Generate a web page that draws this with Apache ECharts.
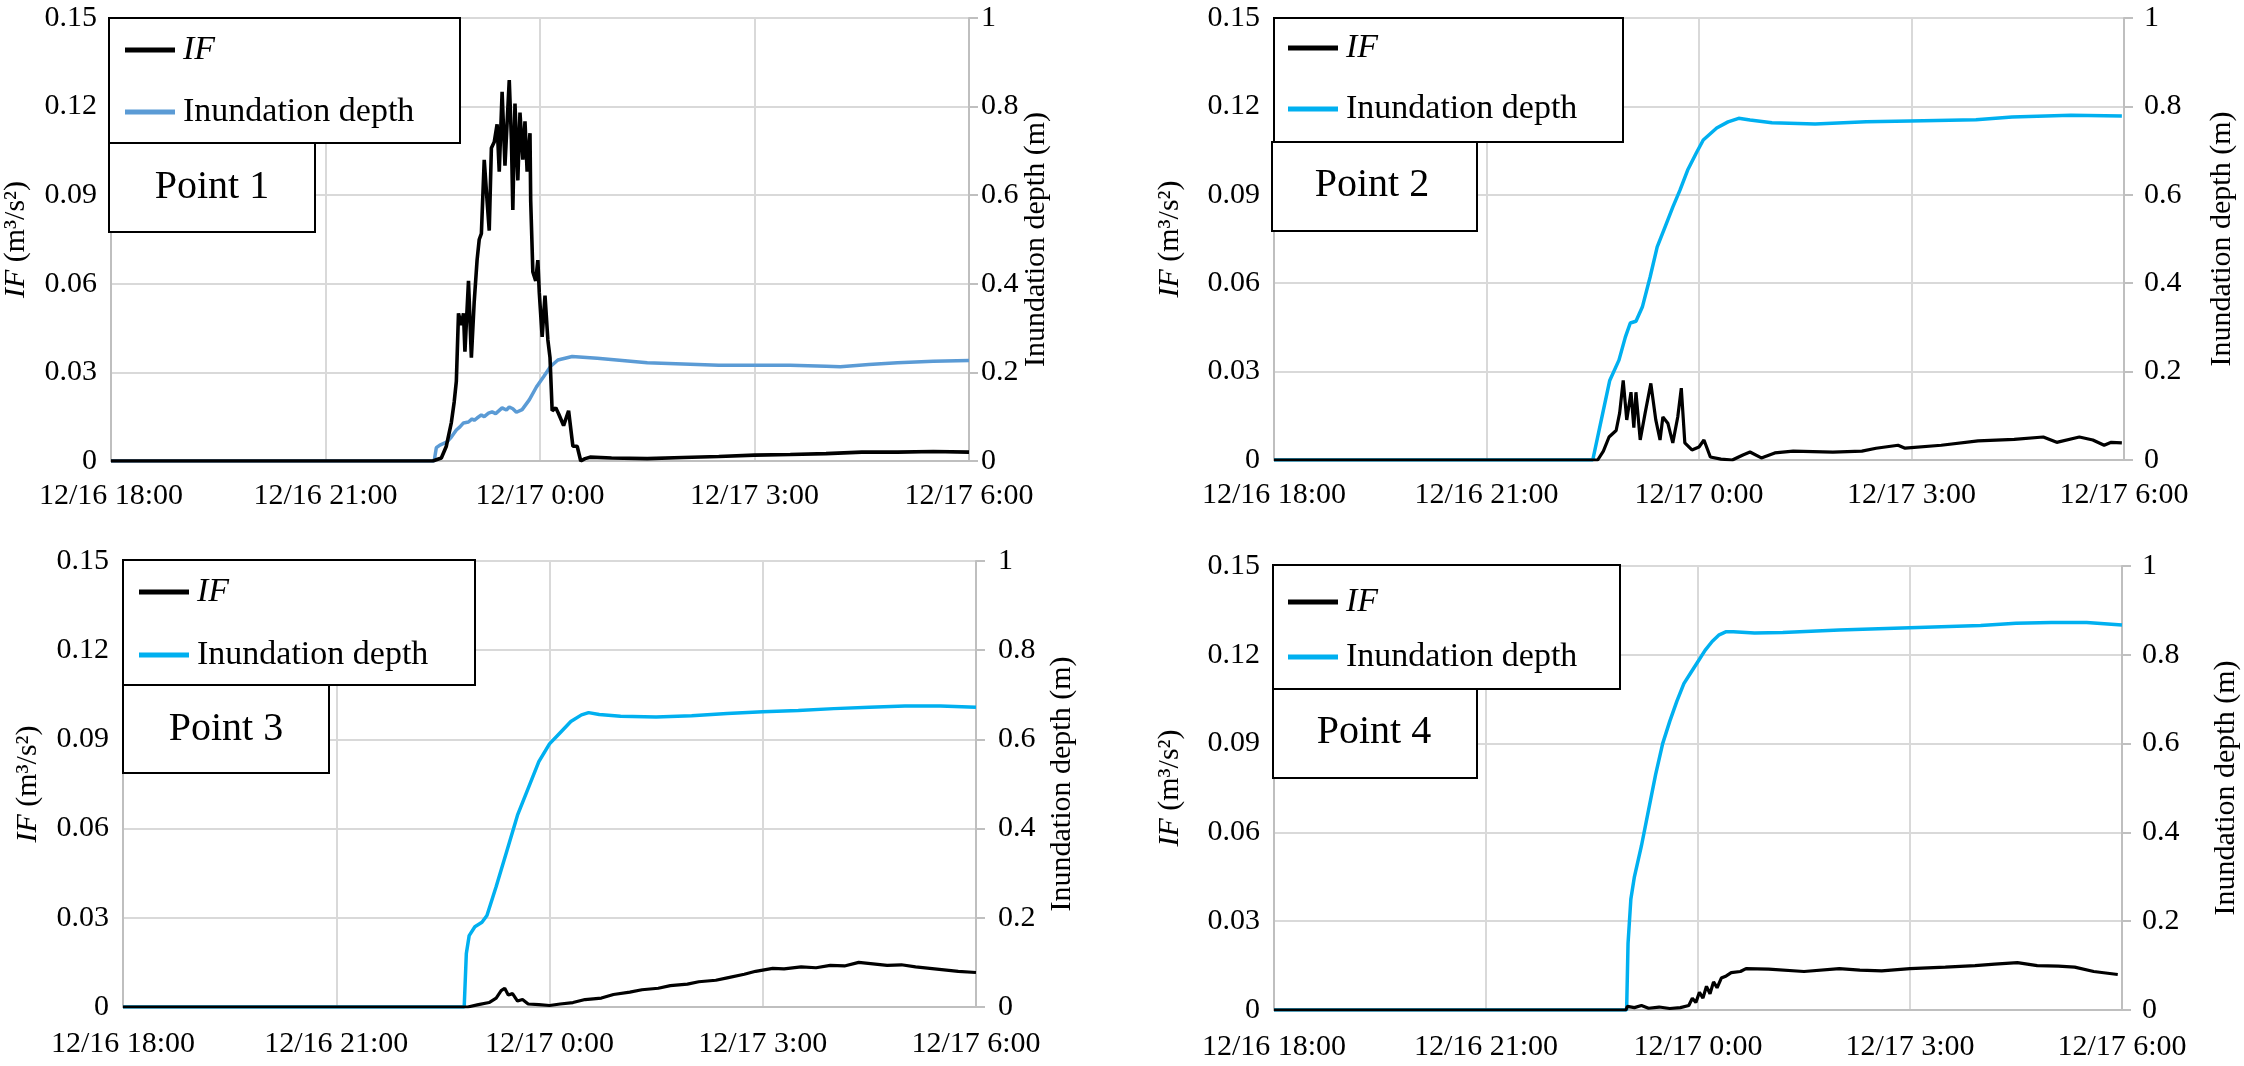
<!DOCTYPE html>
<html>
<head>
<meta charset="utf-8">
<script src="https://cdn.jsdelivr.net/npm/echarts@6/dist/echarts.min.js"></script>
<style>html,body{margin:0;padding:0;background:#fff}#c{width:2244px;height:1066px}</style>
</head>
<body>
<div id="c"></div>
<script>
// ---------- data (x = hours after 12/16 18:00) ----------
const tickLabels = ['12/16 18:00', '12/16 21:00', '12/17 0:00', '12/17 3:00', '12/17 6:00'];
const ifTicks = ['0', '0.03', '0.06', '0.09', '0.12', '0.15'];
const depthTicks = ['0', '0.2', '0.4', '0.6', '0.8', '1'];
const pointNames = ['Point 1', 'Point 2', 'Point 3', 'Point 4'];

const p1IF = [[0,0],[4.50,0],[4.62,0.001],[4.69,0.005],[4.76,0.013],[4.80,0.020],[4.83,0.027],[4.86,0.050],[4.90,0.046],[4.93,0.050],[4.95,0.037],[5.00,0.061],[5.04,0.035],[5.08,0.054],[5.12,0.068],[5.15,0.075],[5.18,0.077],[5.22,0.102],[5.26,0.088],[5.29,0.078],[5.32,0.106],[5.36,0.108],[5.40,0.114],[5.43,0.098],[5.47,0.125],[5.51,0.100],[5.57,0.129],[5.60,0.109],[5.62,0.085],[5.65,0.121],[5.69,0.095],[5.72,0.118],[5.76,0.102],[5.79,0.115],[5.82,0.098],[5.86,0.111],[5.87,0.088],[5.90,0.064],[5.94,0.061],[5.97,0.068],[5.99,0.057],[6.03,0.042],[6.07,0.056],[6.11,0.041],[6.14,0.035],[6.17,0.017],[6.22,0.018],[6.26,0.016],[6.33,0.012],[6.40,0.017],[6.46,0.005],[6.52,0.005],[6.57,0.0],[6.63,0.0008],[6.70,0.0013],[7.0,0.001],[7.5,0.0008],[8.0,0.0012],[8.5,0.0015],[9.0,0.002],[9.5,0.0022],[10.0,0.0025],[10.5,0.003],[11.0,0.003],[11.5,0.0032],[12.0,0.003]];
const p1Depth = [[0,0],[4.52,0],[4.55,0.030],[4.60,0.036],[4.70,0.043],[4.76,0.054],[4.83,0.070],[4.88,0.077],[4.93,0.086],[5.00,0.088],[5.05,0.095],[5.08,0.092],[5.12,0.097],[5.18,0.104],[5.22,0.100],[5.28,0.108],[5.33,0.111],[5.38,0.107],[5.47,0.120],[5.53,0.115],[5.57,0.122],[5.62,0.118],[5.67,0.110],[5.75,0.116],[5.85,0.138],[5.95,0.167],[6.05,0.190],[6.15,0.214],[6.25,0.228],[6.45,0.236],[6.8,0.232],[7.5,0.222],[8.5,0.216],[9.0,0.216],[9.5,0.216],[10.0,0.214],[10.2,0.213],[10.6,0.218],[11.0,0.222],[11.5,0.225],[12.0,0.227]];

const p2IF = [[0,0],[4.57,0],[4.65,0.003],[4.73,0.0078],[4.83,0.010],[4.88,0.016],[4.93,0.027],[4.98,0.0136],[5.04,0.023],[5.08,0.011],[5.11,0.023],[5.17,0.0068],[5.24,0.016],[5.32,0.026],[5.39,0.0136],[5.45,0.0068],[5.49,0.0146],[5.56,0.0125],[5.63,0.0058],[5.70,0.0146],[5.75,0.0244],[5.80,0.0058],[5.90,0.0034],[6.00,0.0044],[6.07,0.0068],[6.16,0.001],[6.31,0.0003],[6.47,0],[6.62,0.0017],[6.72,0.0027],[6.88,0.0007],[7.07,0.0024],[7.33,0.003],[7.89,0.0027],[8.30,0.003],[8.50,0.004],[8.81,0.005],[8.91,0.004],[9.42,0.005],[9.94,0.0065],[10.45,0.007],[10.86,0.0078],[11.05,0.006],[11.37,0.0078],[11.56,0.0068],[11.72,0.005],[11.82,0.006],[11.97,0.0058]];
const p2Depth = [[0,0],[4.50,0],[4.62,0.090],[4.74,0.180],[4.87,0.226],[4.96,0.278],[5.03,0.310],[5.11,0.314],[5.20,0.346],[5.31,0.414],[5.41,0.482],[5.52,0.527],[5.63,0.572],[5.73,0.610],[5.84,0.656],[5.96,0.694],[6.06,0.724],[6.25,0.751],[6.41,0.765],[6.56,0.773],[6.72,0.769],[7.03,0.763],[7.64,0.760],[8.36,0.765],[8.98,0.767],[9.91,0.770],[10.42,0.776],[11.25,0.780],[11.97,0.778]];

const p3IF = [[0,0],[4.85,0],[5.0,0.0008],[5.15,0.0015],[5.25,0.003],[5.32,0.0055],[5.37,0.0063],[5.42,0.004],[5.48,0.0045],[5.55,0.002],[5.62,0.0025],[5.7,0.001],[5.85,0.0008],[6.0,0.0005],[6.15,0.001],[6.33,0.0015],[6.5,0.0025],[6.73,0.003],[6.9,0.0042],[7.13,0.005],[7.3,0.0058],[7.53,0.0063],[7.7,0.0072],[7.94,0.0077],[8.1,0.0085],[8.34,0.009],[8.5,0.0098],[8.74,0.011],[8.9,0.012],[9.14,0.013],[9.3,0.0128],[9.54,0.0135],[9.75,0.0132],[9.95,0.014],[10.15,0.0138],[10.35,0.015],[10.55,0.0145],[10.75,0.014],[10.95,0.0142],[11.15,0.0135],[11.35,0.013],[11.55,0.0125],[11.75,0.012],[12.0,0.0116]];
const p3Depth = [[0,0],[4.80,0],[4.83,0.120],[4.87,0.160],[4.95,0.180],[5.05,0.190],[5.12,0.205],[5.25,0.270],[5.40,0.350],[5.55,0.430],[5.70,0.490],[5.85,0.550],[6.00,0.590],[6.15,0.615],[6.30,0.640],[6.45,0.655],[6.55,0.660],[6.70,0.656],[7.0,0.652],[7.5,0.650],[8.0,0.653],[8.5,0.658],[9.0,0.662],[9.5,0.665],[10.0,0.669],[10.5,0.672],[11.0,0.675],[11.5,0.675],[12.0,0.672]];

const p4IF = [[0,0],[4.98,0],[5.0,0.0012],[5.1,0.0008],[5.2,0.0015],[5.3,0.0006],[5.45,0.001],[5.6,0.0005],[5.75,0.0008],[5.87,0.0015],[5.92,0.004],[5.97,0.0025],[6.02,0.006],[6.07,0.004],[6.12,0.008],[6.17,0.0055],[6.22,0.0095],[6.27,0.0075],[6.33,0.0108],[6.4,0.0115],[6.47,0.0126],[6.6,0.013],[6.68,0.014],[7.0,0.0138],[7.5,0.013],[8.0,0.014],[8.29,0.0135],[8.6,0.0132],[9.0,0.014],[9.5,0.0145],[9.92,0.015],[10.2,0.0155],[10.52,0.016],[10.8,0.015],[11.1,0.0148],[11.33,0.0145],[11.6,0.013],[11.94,0.012]];
const p4Depth = [[0,0],[4.99,0],[5.01,0.150],[5.05,0.250],[5.10,0.300],[5.20,0.370],[5.30,0.450],[5.40,0.530],[5.50,0.600],[5.60,0.650],[5.70,0.695],[5.80,0.735],[5.90,0.760],[6.00,0.785],[6.10,0.810],[6.20,0.830],[6.30,0.845],[6.40,0.852],[6.50,0.852],[6.80,0.849],[7.2,0.850],[8.0,0.856],[9.0,0.861],[10.0,0.866],[10.5,0.871],[11.0,0.873],[11.5,0.873],[12.0,0.867]];

const ifSeries = [p1IF, p2IF, p3IF, p4IF];
const depthSeries = [p1Depth, p2Depth, p3Depth, p4Depth];

// ---------- layout / style ----------
const FONT = '"Liberation Serif", "Times New Roman", serif';
const layouts = [
  {grid:[111,18,858,443], leftGap:80, rightMargin:12, rightGap:67, xMargin:20, depthColor:'#5B9BD5', ifWidth:3.6,
   legendBox:[109,18,351,125], legendPos:[125,30], legendGap:22, pointBox:[109,143,206,89], pointC:[212,187]},
  {grid:[1274,18,850,442], leftGap:89, rightMargin:20, rightGap:98, xMargin:20, depthColor:'#00B0F0', ifWidth:3.2,
   legendBox:[1274,18,349,124], legendPos:[1288,28], legendGap:21, pointBox:[1272,142,205,89], pointC:[1372,185]},
  {grid:[123,561,853,446], leftGap:80, rightMargin:22, rightGap:86, xMargin:22, depthColor:'#00B0F0', ifWidth:3.2,
   legendBox:[123,560,352,125], legendPos:[139,572], legendGap:23, pointBox:[123,685,206,88], pointC:[226,729]},
  {grid:[1274,566,848,444], leftGap:89, rightMargin:20, rightGap:104, xMargin:22, depthColor:'#00B0F0', ifWidth:3.2,
   legendBox:[1273,565,347,124], legendPos:[1288,582], legendGap:15, pointBox:[1273,689,204,89], pointC:[1374,732]}
];

const grid = [], xAxis = [], yAxis = [], series = [], legend = [], elements = [];
layouts.forEach((L, i) => {
  grid.push({left:L.grid[0], top:L.grid[1], width:L.grid[2], height:L.grid[3]});
  xAxis.push({
    type:'value', gridIndex:i, min:0, max:12, interval:3,
    axisLine:{show:true, onZero:false, lineStyle:{color:'#bfbfbf', width:2}},
    axisTick:{show:false},
    splitLine:{show:true, lineStyle:{color:'#d9d9d9', width:2}},
    axisLabel:{formatter:v => tickLabels[Math.round(v/3)], fontSize:30, color:'#000', fontFamily:FONT, margin:L.xMargin}
  });
  yAxis.push({
    type:'value', gridIndex:i, position:'left', min:0, max:0.15, interval:0.03,
    axisLine:{show:true, lineStyle:{color:'#bfbfbf', width:2}},
    axisTick:{show:false},
    splitLine:{show:true, lineStyle:{color:'#d9d9d9', width:2}},
    axisLabel:{formatter:v => ifTicks[Math.round(v/0.03)], fontSize:30, color:'#000', fontFamily:FONT, margin:14},
    name:'{i|IF} (m³/s²)', nameLocation:'middle', nameRotate:90, nameGap:L.leftGap,
    nameTextStyle:{fontSize:30, color:'#000', fontFamily:FONT,
      rich:{i:{fontStyle:'italic', fontSize:30, color:'#000', fontFamily:FONT}}}
  });
  yAxis.push({
    type:'value', gridIndex:i, position:'right', min:0, max:1, interval:0.2,
    axisLine:{show:true, lineStyle:{color:'#bfbfbf', width:2}},
    axisTick:{show:true, inside:false, length:9, lineStyle:{color:'#bfbfbf', width:2}},
    splitLine:{show:false},
    axisLabel:{formatter:v => depthTicks[Math.round(v/0.2)], fontSize:30, color:'#000', fontFamily:FONT, margin:L.rightMargin},
    name:'Inundation depth (m)', nameLocation:'middle', nameRotate:90, nameGap:L.rightGap,
    nameMoveOverlap:false,
    nameTextStyle:{fontSize:30, color:'#000', fontFamily:FONT, align:'center', verticalAlign:'middle'}
  });
  series.push({
    type:'line', name:'IF#'+i, xAxisIndex:i, yAxisIndex:2*i, data:ifSeries[i],
    symbol:'none', showSymbol:false, lineStyle:{color:'#000', width:L.ifWidth}, itemStyle:{color:'#000'}, z:3
  });
  series.push({
    type:'line', name:'Depth#'+i, xAxisIndex:i, yAxisIndex:2*i+1, data:depthSeries[i],
    symbol:'none', showSymbol:false, lineStyle:{color:L.depthColor, width:3.5}, itemStyle:{color:L.depthColor}, z:2
  });
  legend.push({
    data:['IF#'+i, 'Depth#'+i], orient:'vertical', left:L.legendPos[0], top:L.legendPos[1],
    itemWidth:50, itemHeight:5, itemGap:L.legendGap, icon:'rect', padding:0, selectedMode:false, z:60,
    formatter:name => name.indexOf('IF') === 0 ? '{i|IF}' : 'Inundation depth',
    textStyle:{fontSize:34, color:'#000', fontFamily:FONT, lineHeight:40, padding:[0,0,0,3],
      rich:{i:{fontStyle:'italic', fontSize:34, color:'#000', fontFamily:FONT, lineHeight:40}}}
  });
  const lb = L.legendBox, pb = L.pointBox;
  elements.push({type:'rect', z:50, shape:{x:lb[0], y:lb[1], width:lb[2], height:lb[3]}, style:{fill:'#fff', stroke:'#000', lineWidth:2}});
  elements.push({type:'rect', z:50, shape:{x:pb[0], y:pb[1], width:pb[2], height:pb[3]}, style:{fill:'#fff', stroke:'#000', lineWidth:2}});
  elements.push({type:'text', z:51, x:L.pointC[0], y:L.pointC[1],
    style:{text:pointNames[i], font:'40px ' + FONT, fill:'#000', align:'center', verticalAlign:'middle'}});
});

const chart = echarts.init(document.getElementById('c'));
chart.setOption({
  animation:false,
  backgroundColor:'#fff',
  grid, xAxis, yAxis, series, legend,
  graphic:{elements}
});
</script>
</body>
</html>
